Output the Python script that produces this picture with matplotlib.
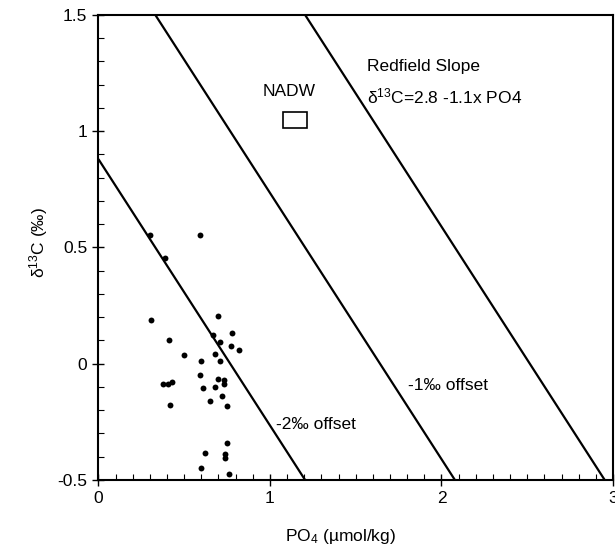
import matplotlib
matplotlib.use("Agg")
import matplotlib.pyplot as plt
import numpy as np
from matplotlib.patches import Rectangle
from matplotlib.ticker import MultipleLocator, FixedLocator

plt.rcParams['font.family'] = ['Liberation Sans', 'DejaVu Sans']
plt.rcParams['mathtext.default'] = 'regular'

# Data points: PO4 (umol/kg), d13C (permil)
po4 = [0.300, 0.594, 0.388, 0.308, 0.699, 0.780, 0.409, 0.669, 0.710, 0.771,
       0.821, 0.499, 0.679, 0.599, 0.710, 0.590, 0.378, 0.405, 0.430, 0.699,
       0.730, 0.732, 0.609, 0.679, 0.720, 0.419, 0.648, 0.749, 0.749, 0.619,
       0.738, 0.739, 0.598, 0.759]
d13c = [0.555, 0.554, 0.454, 0.187, 0.207, 0.134, 0.103, 0.124, 0.092, 0.075,
        0.059, 0.039, 0.041, 0.011, 0.013, -0.050, -0.086, -0.086, -0.078, -0.067,
        -0.071, -0.086, -0.104, -0.101, -0.137, -0.179, -0.159, -0.180, -0.341, -0.385,
        -0.389, -0.405, -0.447, -0.475]

# Redfield-slope lines (0, -1, -2 permil offsets)
line_intercepts = [2.88, 1.88, 0.88]
line_slope = 1.145

# NADW box
nadw_po4 = [1.076, 1.214]
nadw_d13c = [1.013, 1.084]

xticks = [0, 1, 2, 3]
xticklabels = ["0", "1", "2", "3"]
yticks = [-0.5, 0, 0.5, 1, 1.5]
yticklabels = ["-0.5", "0", "0.5", "1", "1.5"]

fig = plt.figure(figsize=(6.15, 5.53), dpi=100)
ax = fig.add_axes([0.160, 0.132, 0.8367, 0.841])

xx = np.array([0.0, 3.0])
for b in line_intercepts:
    ax.plot(xx, b - line_slope * xx, color='black', lw=1.6, solid_capstyle='butt')

ax.scatter(po4, d13c, s=18, color='black', zorder=3, linewidths=0)

ax.add_patch(Rectangle((nadw_po4[0], nadw_d13c[0]), nadw_po4[1] - nadw_po4[0],
                       nadw_d13c[1] - nadw_d13c[0], fill=False, edgecolor='black', lw=1.2))

ax.set_xlim(0, 3)
ax.set_ylim(-0.5, 1.5)
ax.xaxis.set_major_locator(FixedLocator(xticks))
ax.set_xticklabels(xticklabels)
ax.yaxis.set_major_locator(FixedLocator(yticks))
ax.set_yticklabels(yticklabels)
ax.xaxis.set_minor_locator(MultipleLocator(0.1))
ax.yaxis.set_minor_locator(MultipleLocator(0.1))
ax.tick_params(which='major', direction='inout', length=8, width=1.0, labelsize=12.5, pad=4)
ax.tick_params(which='minor', direction='in', length=4, width=0.8)
for s in ax.spines.values():
    s.set_linewidth(1.5)

fs = 12.5
ax.text(1.566, 1.277, "Redfield Slope", fontsize=fs, va='center', ha='left')
ax.text(1.566, 1.150, "δ$^{13}$C=2.8 -1.1x PO4", fontsize=fs, va='center', ha='left')
ax.text(1.11, 1.17, "NADW", fontsize=fs, va='center', ha='center')
ax.text(1.806, -0.095, "-1‰ offset", fontsize=fs, va='center', ha='left')
ax.text(1.035, -0.26, "-2‰ offset", fontsize=fs, va='center', ha='left')

ax.set_xlabel("PO$_4$ (µmol/kg)", fontsize=fs)
ax.set_ylabel("δ$^{13}$C (‰)", fontsize=fs)
ax.xaxis.set_label_coords(0.47, -0.10)
ax.yaxis.set_label_coords(-0.095, 0.51)

fig.savefig("out.png", dpi=100)
